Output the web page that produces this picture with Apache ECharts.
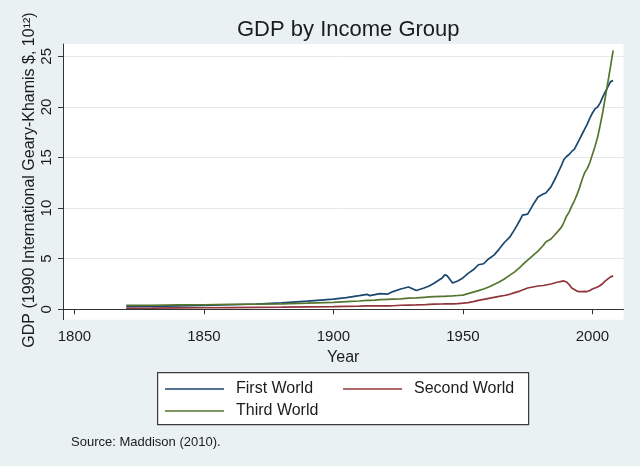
<!DOCTYPE html>
<html>
<head>
<meta charset="utf-8">
<script src="https://cdn.jsdelivr.net/npm/echarts@6/dist/echarts.min.js"></script>
<style>
html,body{margin:0;padding:0;background:#e9f1f3;}
#chart{width:640px;height:466px;}
</style>
</head>
<body>
<div id="chart"></div>
<script>
var years = [1820,1830,1840,1850,1860,1870,1880,1890,1900,1905,1910,1913,1914,1916,1918,1921,1923,1926,1929,1932,1935,1937,1939,1942,1943,1944,1946,1948,1950,1952,1954,1956,1958,1960,1962,1964,1966,1968,1970,1972,1973,1975,1977,1979,1981,1982,1984,1986,1988,1989,1990,1991,1992,1993,1994,1995,1996,1997,1998,1999,2000,2001,2002,2003,2004,2005,2006,2007,2008];
var firstWorld = [0.25,0.28,0.33,0.38,0.45,0.52,0.64,0.80,1.00,1.15,1.35,1.48,1.35,1.45,1.55,1.50,1.75,2.00,2.20,1.85,2.10,2.30,2.60,3.10,3.40,3.30,2.60,2.80,3.10,3.55,3.90,4.40,4.50,5.00,5.35,5.95,6.60,7.10,7.90,8.80,9.30,9.40,10.30,11.10,11.40,11.50,12.10,13.10,14.20,14.80,15.10,15.30,15.60,15.80,16.30,16.80,17.30,17.80,18.30,18.90,19.40,19.80,20.00,20.40,21.00,21.50,22.00,22.50,22.60];
var secondWorld = [0.10,0.11,0.13,0.15,0.17,0.19,0.21,0.24,0.27,0.29,0.31,0.33,0.33,0.34,0.34,0.33,0.35,0.40,0.42,0.43,0.45,0.48,0.50,0.52,0.53,0.53,0.54,0.56,0.60,0.66,0.75,0.88,0.98,1.08,1.18,1.28,1.36,1.48,1.65,1.80,1.90,2.10,2.20,2.30,2.35,2.40,2.50,2.65,2.75,2.80,2.70,2.45,2.10,1.95,1.80,1.75,1.75,1.77,1.75,1.85,2.00,2.10,2.20,2.35,2.55,2.80,3.00,3.20,3.30];
var thirdWorld = [0.38,0.40,0.43,0.45,0.48,0.50,0.53,0.60,0.68,0.75,0.82,0.88,0.88,0.90,0.95,0.98,1.00,1.03,1.10,1.12,1.18,1.22,1.25,1.28,1.28,1.30,1.32,1.36,1.40,1.55,1.70,1.85,2.00,2.20,2.45,2.70,3.00,3.35,3.70,4.15,4.40,4.85,5.30,5.75,6.30,6.65,6.95,7.50,8.10,8.60,9.20,9.60,10.20,10.70,11.30,12.00,12.80,13.50,13.90,14.50,15.30,16.10,17.00,18.20,19.50,21.00,22.50,24.00,25.60];
var xTicks = [1800,1850,1900,1950,2000];
var yTicks = [0,5,10,15,20,25];
var seriesNames = ['First World','Second World','Third World'];
var seriesColors = ['#1a476f','#90353b','#55752f'];
var titleText = 'GDP by Income Group';
var xTitle = 'Year';
var yTitle = 'GDP (1990 International Geary-Khamis $, 10\u00b9\u00b2)';
var sourceText = 'Source: Maddison (2010).';

function pairs(vals){ return years.map(function(y,i){ return [y, vals[i]]; }); }
var allVals = [firstWorld, secondWorld, thirdWorld];
var FONT = 'Liberation Sans, Arial, Helvetica, sans-serif';
var TXT = '#1c1c1c';

var chart = echarts.init(document.getElementById('chart'));
chart.setOption({
  backgroundColor: '#e9f1f3',
  animation: false,
  textStyle: {fontFamily: FONT},
  title: [
    {text: titleText, left: 232, top: 14, textStyle: {fontSize: 22, fontWeight: 'normal', color: TXT, fontFamily: FONT}},
    {text: sourceText, left: 66, top: 431, textStyle: {fontSize: 13, fontWeight: 'normal', color: TXT, fontFamily: FONT}}
  ],
  grid: {left: 63, right: 16.5, top: 44, bottom: 146.3, show: true, backgroundColor: '#ffffff', borderWidth: 0},
  graphic: [{
    type: 'rect', left: 157, top: 372, z: 1,
    shape: {width: 371, height: 52},
    style: {fill: '#ffffff', stroke: '#3a3a3a', lineWidth: 1.2}
  }, {
    type: 'text', x: 30, y: 180, rotation: Math.PI / 2, z: 5,
    style: {text: yTitle, fontSize: 16, fill: TXT, fontFamily: FONT, align: 'center', verticalAlign: 'middle'}
  }],
  legend: [
    {data: [seriesNames[0], seriesNames[1]], left: 165, top: 381, padding: 0, itemGap: 30, itemWidth: 59, itemHeight: 1.4, icon: 'rect', z: 5,
     textStyle: {fontSize: 16, color: TXT, fontFamily: FONT, padding: [0,0,0,7]}},
    {data: [seriesNames[2]], left: 165, top: 403, padding: 0, itemWidth: 59, itemHeight: 1.4, icon: 'rect', z: 5,
     textStyle: {fontSize: 16, color: TXT, fontFamily: FONT, padding: [0,0,0,7]}}
  ],
  xAxis: {
    type: 'value', min: 1795.6, max: 2012,
    name: xTitle, nameLocation: 'middle', nameGap: 26,
    nameTextStyle: {fontSize: 16, color: TXT, fontFamily: FONT},
    axisLine: {show: true, lineStyle: {color: '#333', width: 1}},
    axisTick: {show: true, length: 5, lineStyle: {color: '#333'}, customValues: xTicks},
    axisLabel: {fontSize: 15, color: TXT, margin: 10, customValues: xTicks, fontFamily: FONT,
      formatter: function(v){ return String(v); }},
    splitLine: {show: false}
  },
  yAxis: {
    type: 'value', min: -1.03, max: 26.22,
    axisLine: {show: true, lineStyle: {color: '#333', width: 1}},
    axisTick: {show: true, length: 5, lineStyle: {color: '#333'}, customValues: yTicks},
    axisLabel: {fontSize: 15, color: TXT, margin: 9, rotate: 90, customValues: yTicks, fontFamily: FONT},
    splitLine: {show: true, lineStyle: {color: '#e2eaed', width: 1}}
  },
  series: seriesNames.map(function(n, i){
    return {name: n, type: 'line', data: pairs(allVals[i]), symbol: 'none', smooth: false,
      lineStyle: {color: seriesColors[i], width: 1.7}, itemStyle: {color: seriesColors[i]}};
  })
});
</script>
</body>
</html>
